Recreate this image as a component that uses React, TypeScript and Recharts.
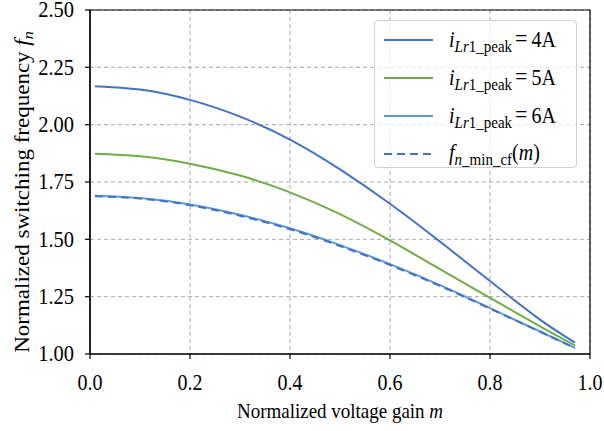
import {
  LineChart,
  Line,
  XAxis,
  YAxis,
  CartesianGrid,
  ReferenceArea,
} from "recharts";

const gainM = [0.01, 0.1, 0.2, 0.3, 0.4, 0.5, 0.6, 0.7, 0.8, 0.9, 0.97];
const peak4A = [2.168, 2.153, 2.108, 2.035, 1.935, 1.805, 1.655, 1.49, 1.318, 1.15, 1.05];
const peak5A = [1.873, 1.862, 1.83, 1.778, 1.705, 1.61, 1.495, 1.37, 1.245, 1.12, 1.037];
const peak6A = [1.69, 1.68, 1.652, 1.607, 1.548, 1.475, 1.392, 1.3, 1.2, 1.098, 1.027];
const fnMinCf = [1.688, 1.678, 1.649, 1.603, 1.544, 1.471, 1.388, 1.297, 1.198, 1.097, 1.026];

const xTicks = [0, 0.2, 0.4, 0.6, 0.8, 1.0];
const yTicks = [1.0, 1.25, 1.5, 1.75, 2.0, 2.25, 2.5];

const data = gainM.map((m, i) => ({
  m,
  a4: peak4A[i],
  a5: peak5A[i],
  a6: peak6A[i],
  fmin: fnMinCf[i],
}));

const colors = {
  a4: "#4472c4",
  a5: "#70ad47",
  a6: "#5b9bd5",
  fmin: "#4472c4",
};

const FONT = "'Liberation Serif', 'Times New Roman', serif";
// the reference text is a bit taller than it is wide
const STRETCH = 1.12;

interface TickProps {
  x?: number;
  y?: number;
  payload?: { value: number };
}

const XTick = ({ x = 0, y = 0, payload }: TickProps) => (
  <text
    transform={`translate(${x},${y + 24}) scale(1,${STRETCH})`}
    textAnchor="middle"
    dominantBaseline="central"
    fontFamily={FONT}
    fontSize={20}
    fill="#000"
  >
    {payload ? payload.value.toFixed(1) : ""}
  </text>
);

const YTick = ({ x = 0, y = 0, payload }: TickProps) => (
  <text
    transform={`translate(${x - 11},${y}) scale(1,${STRETCH})`}
    textAnchor="end"
    dominantBaseline="central"
    fontFamily={FONT}
    fontSize={20.5}
    fill="#000"
  >
    {payload ? payload.value.toFixed(2) : ""}
  </text>
);

const YLabel = () => (
  <text
    transform={`translate(29,192) scale(1,1.15) rotate(-90)`}
    textAnchor="middle"
    fontFamily={FONT}
    fontSize={20}
    fill="#000"
  >
    Normalized switching frequency{" "}
    <tspan fontStyle="italic">f</tspan>
    <tspan fontStyle="italic" fontSize={14} dy={4}>n</tspan>
  </text>
);

const XLabel = () => (
  <text
    transform={`translate(340,418) scale(1,${STRETCH})`}
    textAnchor="middle"
    fontFamily={FONT}
    fontSize={19}
    fill="#000"
  >
    Normalized voltage gain <tspan fontStyle="italic">m</tspan>
  </text>
);

const subStyle = { fontSize: 15, verticalAlign: "-5px" };

const PeakLabel = ({ amps }: { amps: number }) => (
  <span>
    <i>i</i>
    <sub style={subStyle}>
      <i>Lr</i>1_peak
    </sub>
    <span style={{ margin: "0 4px 0 3px", fontSize: 22 }}>=</span>
    {amps}A
  </span>
);

const legendItems = [
  { key: "a4", node: <PeakLabel amps={4} />, dashed: false },
  { key: "a5", node: <PeakLabel amps={5} />, dashed: false },
  { key: "a6", node: <PeakLabel amps={6} />, dashed: false },
  {
    key: "fmin",
    node: (
      <span>
        <i>f</i>
        <sub style={subStyle}>
          <i>n</i>_min_cf
        </sub>
        (<i>m</i>)
      </span>
    ),
    dashed: true,
  },
];

function ChartLegend() {
  return (
    <div
      style={{
        position: "absolute",
        left: 374,
        top: 20,
        width: 203,
        height: 148,
        boxSizing: "border-box",
        border: "1px solid #d0d0d0",
        borderRadius: 4,
        background: "rgba(255,255,255,0.8)",
        fontFamily: FONT,
        fontSize: 20,
        color: "#000",
      }}
    >
      {legendItems.map((item) => (
        <div key={item.key} style={{ display: "flex", alignItems: "center", height: 38 }}>
          <svg width={74} height={10} style={{ flexShrink: 0 }}>
            <line
              x1={9}
              x2={58}
              y1={5}
              y2={5}
              stroke={colors[item.key as keyof typeof colors]}
              strokeWidth={2}
              strokeDasharray={item.dashed ? "8 5" : undefined}
            />
          </svg>
          <div style={{ transform: `scaleY(${STRETCH})`, whiteSpace: "nowrap" }}>{item.node}</div>
        </div>
      ))}
    </div>
  );
}

export default function App() {
  return (
    <div style={{ position: "relative", width: 604, height: 431, background: "#fff" }}>
      <style>{`body{margin:0}`}</style>
      <LineChart
        width={604}
        height={431}
        data={data}
        margin={{ top: 10, right: 14, bottom: 0, left: 0 }}
      >
        <CartesianGrid stroke="#a8a8a8" strokeDasharray="4 3" />
        <XAxis
          dataKey="m"
          type="number"
          domain={[0, 1]}
          ticks={xTicks}
          height={77}
          tickSize={5}
          tickMargin={0}
          tick={<XTick />}
          axisLine={{ stroke: "#000", strokeWidth: 1.2 }}
          tickLine={{ stroke: "#000", strokeWidth: 1.2 }}
          label={<XLabel />}
        />
        <YAxis
          type="number"
          domain={[1, 2.5]}
          ticks={yTicks}
          width={90}
          tickSize={5}
          tickMargin={0}
          tick={<YTick />}
          axisLine={{ stroke: "#000", strokeWidth: 1.2 }}
          tickLine={{ stroke: "#000", strokeWidth: 1.2 }}
          label={<YLabel />}
        />
        <ReferenceArea x1={0} x2={1} y1={1} y2={2.5} fill="none" stroke="#000" strokeWidth={1.2} />
        <Line type="natural" dataKey="a4" stroke={colors.a4} strokeWidth={2} dot={false} isAnimationActive={false} />
        <Line type="natural" dataKey="a5" stroke={colors.a5} strokeWidth={2} dot={false} isAnimationActive={false} />
        <Line type="natural" dataKey="a6" stroke={colors.a6} strokeWidth={2} dot={false} isAnimationActive={false} />
        <Line
          type="natural"
          dataKey="fmin"
          stroke={colors.fmin}
          strokeWidth={2}
          strokeDasharray="8 5"
          dot={false}
          isAnimationActive={false}
        />
      </LineChart>
      <ChartLegend />
    </div>
  );
}
